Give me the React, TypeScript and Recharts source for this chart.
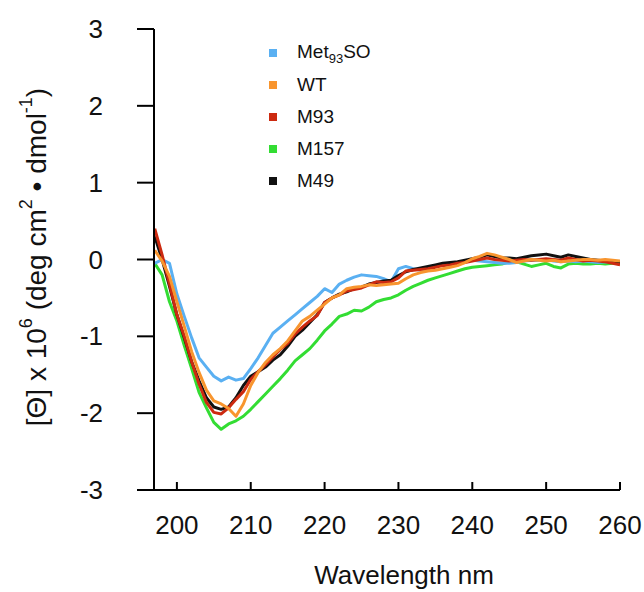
import { Legend, Line, LineChart, XAxis, YAxis } from 'recharts';

const wavelengths = [
  197, 198, 199, 200, 201, 202, 203, 204, 205, 206, 207, 208, 209, 210, 211, 212,
  213, 214, 215, 216, 217, 218, 219, 220, 221, 222, 223, 224, 225, 226, 227, 228,
  229, 230, 231, 232, 233, 234, 235, 236, 237, 238, 239, 240, 241, 242, 243, 244,
  245, 246, 247, 248, 249, 250, 251, 252, 253, 254, 255, 256, 257, 258, 259, 260,
];

const met93so = [
  -0.05, 0.0, -0.05, -0.45, -0.74, -1.02, -1.28, -1.4, -1.52, -1.58, -1.53, -1.57, -1.55, -1.42, -1.28, -1.12,
  -0.96, -0.88, -0.8, -0.72, -0.64, -0.56, -0.48, -0.38, -0.43, -0.32, -0.27, -0.23, -0.2, -0.21, -0.22, -0.25,
  -0.29, -0.12, -0.09, -0.12, -0.14, -0.11, -0.09, -0.07, -0.06, -0.04, -0.03, -0.01, -0.02, -0.03, -0.04, -0.05,
  -0.05, -0.04, -0.02, -0.01, -0.01, 0.0, -0.02, -0.03, -0.02, -0.03, -0.02, -0.03, -0.04, -0.03, -0.04, -0.05,
];

const wt = [
  0.12, -0.02, -0.22, -0.55, -0.87, -1.2, -1.47, -1.7, -1.84, -1.88, -1.94, -2.04, -1.88, -1.64, -1.47, -1.34,
  -1.24, -1.16, -1.06, -0.93, -0.8, -0.74, -0.66, -0.58, -0.5, -0.46, -0.38, -0.36, -0.35, -0.33, -0.34, -0.33,
  -0.32, -0.31, -0.25, -0.2, -0.17, -0.15, -0.14, -0.12, -0.1, -0.08, -0.04, 0.01, 0.04, 0.08, 0.06, 0.03,
  0.0, -0.04, -0.02, 0.0, -0.01, -0.02, -0.01, -0.03, -0.02, -0.01, 0.0, 0.0, -0.01, 0.0, -0.01, -0.02,
];

const m93 = [
  0.4, 0.06, -0.32, -0.72, -1.0, -1.33, -1.62, -1.86, -1.99, -2.01, -1.93, -1.82, -1.72, -1.56, -1.46, -1.37,
  -1.27, -1.17, -1.09, -0.97, -0.88, -0.8, -0.73, -0.56, -0.5, -0.46, -0.41, -0.39, -0.37, -0.33, -0.29, -0.3,
  -0.29, -0.24, -0.15, -0.14, -0.13, -0.12, -0.1, -0.08, -0.07, -0.05, -0.04, -0.02, 0.0, 0.02, 0.0, -0.01,
  -0.02, -0.01, 0.0, -0.01, 0.0, 0.01, 0.0, -0.01, 0.02, 0.0, -0.02, -0.01, -0.02, -0.03, -0.05, -0.07,
];

const m157 = [
  -0.05, -0.2, -0.55, -0.8, -1.12, -1.42, -1.73, -1.93, -2.12, -2.21, -2.14, -2.1, -2.04, -1.95, -1.85, -1.75,
  -1.65, -1.55, -1.44, -1.32, -1.24, -1.16, -1.05, -0.93, -0.84, -0.74, -0.71, -0.66, -0.67, -0.62, -0.55, -0.52,
  -0.5, -0.46, -0.4, -0.35, -0.31, -0.27, -0.24, -0.21, -0.18, -0.15, -0.12, -0.1, -0.09, -0.08, -0.07, -0.06,
  -0.03, -0.03, -0.06, -0.09, -0.07, -0.05, -0.09, -0.11, -0.06, -0.05, -0.06, -0.06, -0.05, -0.06, -0.05, -0.05,
];

const m49 = [
  0.3, 0.0, -0.35, -0.72, -1.02, -1.33, -1.58, -1.8, -1.92, -1.95, -1.92, -1.8, -1.64, -1.52, -1.46, -1.4,
  -1.31, -1.24, -1.13, -1.0, -0.92, -0.82, -0.72, -0.56, -0.5, -0.45, -0.42, -0.38, -0.36, -0.32, -0.3, -0.28,
  -0.27, -0.21, -0.16, -0.13, -0.11, -0.09, -0.07, -0.05, -0.04, -0.03, -0.01, 0.01, 0.03, 0.06, 0.04, 0.02,
  0.02, 0.01, 0.03, 0.05, 0.06, 0.07, 0.05, 0.03, 0.06, 0.04, 0.02, 0.0, -0.01, -0.02, -0.03, -0.04,
];

const xTicks = [200, 210, 220, 230, 240, 250, 260];
const yTicks = [-3, -2, -1, 0, 1, 2, 3];

// legend order top-to-bottom
const series = [
  { key: 'met93so', name: 'Met93SO', color: '#5ab0f2', values: met93so },
  { key: 'wt', name: 'WT', color: '#f8952e', values: wt },
  { key: 'm93', name: 'M93', color: '#cc2a10', values: m93 },
  { key: 'm157', name: 'M157', color: '#33dd33', values: m157 },
  { key: 'm49', name: 'M49', color: '#111111', values: m49 },
];
// drawing order (last on top)
const drawOrder = ['m157', 'met93so', 'm49', 'm93', 'wt'];

const data = wavelengths.map((w, i) => {
  const row: Record<string, number> = { wl: w };
  series.forEach((s) => {
    row[s.key] = s.values[i];
  });
  return row;
});

const FONT = 'Liberation Sans, Arial, sans-serif';

const XTick = (props: any) => {
  const { x, y, payload } = props;
  return (
    <g>
      <line x1={x} x2={x} y1={y - 8} y2={y} stroke="#000" strokeWidth={2} />
      <text x={x} y={y + 44} textAnchor="middle" fontSize={26} fontFamily={FONT} fill="#111">
        {payload.value}
      </text>
    </g>
  );
};

const YTick = (props: any) => {
  const { x, y, payload } = props;
  return (
    <g>
      <line x1={x - 17} x2={x} y1={y} y2={y} stroke="#000" strokeWidth={2} />
      <text x={x - 51} y={y + 9} textAnchor="end" fontSize={26} fontFamily={FONT} fill="#111">
        {payload.value}
      </text>
    </g>
  );
};

const YTitle = () => (
  <text
    x={36}
    y={257}
    transform="rotate(-90 36 257)"
    textAnchor="middle"
    dominantBaseline="central"
    fontSize={28}
    fontFamily={FONT}
    fill="#111"
  >
    [Θ] x 10<tspan dy={-10} fontSize={18}>6</tspan>
    <tspan dy={10}> (deg cm</tspan>
    <tspan dy={-10} fontSize={18}>2</tspan>
    <tspan dy={10}> • dmol</tspan>
    <tspan dy={-10} fontSize={18}>-1</tspan>
    <tspan dy={10}>)</tspan>
  </text>
);

const XTitle = () => (
  <text x={404} y={584} textAnchor="middle" fontSize={26} fontFamily={FONT} fill="#111">
    Wavelength nm
  </text>
);

const LegendBox = () => (
  <div style={{ fontFamily: FONT, fontSize: 19, color: '#111' }}>
    {series.map((s) => (
      <div key={s.key} style={{ height: 32, display: 'flex', alignItems: 'center' }}>
        <span style={{ width: 8, height: 8, background: s.color, display: 'inline-block', marginRight: 20 }} />
        <span>
          {s.name === 'Met93SO' ? (
            <>
              Met<sub style={{ fontSize: 13 }}>93</sub>SO
            </>
          ) : (
            s.name
          )}
        </span>
      </div>
    ))}
  </div>
);

const App = () => {
  return (
    <div style={{ position: 'absolute', left: 0, top: 0, background: '#fff' }}>
      <LineChart
        width={644}
        height={592}
        data={data}
        margin={{ top: 29, right: 24, left: 94, bottom: 62 }}
      >
        <XAxis
          dataKey="wl"
          type="number"
          domain={[196.9, 260]}
          ticks={xTicks}
          allowDataOverflow
          height={40}
          tickSize={0}
          tickMargin={0}
          tickLine={false}
          tick={<XTick />}
          axisLine={{ stroke: '#000', strokeWidth: 2 }}
          label={<XTitle />}
        />
        <YAxis
          type="number"
          domain={[-3, 3]}
          ticks={yTicks}
          width={60}
          tickSize={0}
          tickMargin={0}
          tickLine={false}
          tick={<YTick />}
          axisLine={{ stroke: '#000', strokeWidth: 2 }}
          label={<YTitle />}
        />
        <Legend
          layout="vertical"
          align="center"
          verticalAlign="middle"
          content={<LegendBox />}
          wrapperStyle={{ position: 'absolute', left: 269, top: 37, width: 160 }}
        />
        {drawOrder.map((k) => {
          const s = series.find((x) => x.key === k)!;
          return (
            <Line
              key={s.key}
              dataKey={s.key}
              name={s.name}
              type="linear"
              stroke={s.color}
              strokeWidth={3}
              strokeLinejoin="round"
              dot={false}
              activeDot={false}
              isAnimationActive={false}
            />
          );
        })}
      </LineChart>
    </div>
  );
};

export default App;
